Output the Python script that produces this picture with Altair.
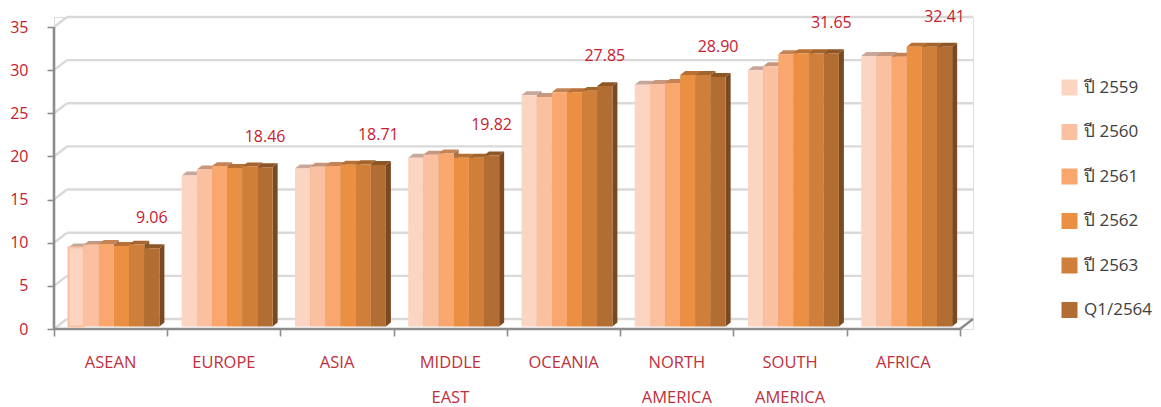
import altair as alt
import pandas as pd

regions = ["ASEAN", "EUROPE", "ASIA", "MIDDLE\nEAST", "OCEANIA", "NORTH\nAMERICA", "SOUTH\nAMERICA", "AFRICA"]
series = ["ปี 2559", "ปี 2560", "ปี 2561", "ปี 2562", "ปี 2563", "Q1/2564"]
colors = ["#FCD4C2", "#FBC09F", "#F9A76F", "#EB8F43", "#CF7F39", "#B26D32"]

y2559 = [9.14, 17.5, 18.3, 19.55, 26.8, 28.0, 29.7, 31.35]
y2560 = [9.45, 18.2, 18.5, 19.9, 26.6, 28.1, 30.15, 31.35]
y2561 = [9.56, 18.58, 18.6, 20.05, 27.15, 28.2, 31.55, 31.25]
y2562 = [9.33, 18.35, 18.75, 19.55, 27.15, 29.15, 31.65, 32.41]
y2563 = [9.48, 18.55, 18.8, 19.55, 27.3, 29.15, 31.65, 32.41]
q12564 = [9.06, 18.46, 18.71, 19.82, 27.85, 28.90, 31.65, 32.41]
table = [y2559, y2560, y2561, y2562, y2563, q12564]

y_ticks = [0, 5, 10, 15, 20, 25, 30, 35]
x_ticks = list(range(9))

# Pseudo-3D geometry, in data units of the two scales
X_MAX = 8.1148
Y_MAX = 36.16
WALL_DX, WALL_DY = 0.1148, 1.16   # shift from the front plane to the back wall
BAR_DX, BAR_DY = 0.044, 0.46      # depth of one bar
BAR_LEFT, BAR_W = 0.128, 0.1338   # first bar inside a category, width of a bar
BASE = 0.3                        # bars stand slightly behind the front edge of the floor

x_scale = alt.Scale(domain=[0, X_MAX], nice=False, zero=False)
y_scale = alt.Scale(domain=[0, Y_MAX], nice=False, zero=False)

# Every layer shares these two axis definitions
x_axis_spec = alt.Axis(
    values=x_ticks, title=None, domain=False, grid=False, labels=False,
    tickSize=7, tickWidth=1.6, tickColor="#8C8C8C",
)
y_axis_spec = alt.Axis(
    values=y_ticks, title=None, domain=False, grid=False, tickSize=7, tickWidth=1.6,
    tickColor="#8C8C8C", labelColor="#C8202F", labelFontSize=16, labelPadding=19,
    labelFont="Open Sans",
)


def shade(color, k):
    r, g, b = (int(color[i:i + 2], 16) for i in (1, 3, 5))
    return f"#{int(r * k):02X}{int(g * k):02X}{int(b * k):02X}"


def enc_x():
    return alt.X("x:Q", scale=x_scale, axis=x_axis_spec)


def enc_y():
    return alt.Y("y:Q", scale=y_scale, axis=y_axis_spec)


# Back wall: grid lines plus the short diagonals on the left wall
diag_rows = []
for t in y_ticks:
    diag_rows += [{"t": t, "x": 0, "y": t}, {"t": t, "x": WALL_DX, "y": t + WALL_DY}]
wall = (
    alt.Chart(pd.DataFrame([{"t": t, "x": WALL_DX, "x2": X_MAX, "y": t + WALL_DY} for t in y_ticks]))
    .mark_rule(color="#D9D9D9", strokeWidth=2.4)
    .encode(x=enc_x(), x2="x2:Q", y=enc_y())
)
wall_diag = (
    alt.Chart(pd.DataFrame(diag_rows))
    .mark_line(color="#D9D9D9", strokeWidth=2.4)
    .encode(x=enc_x(), y=enc_y(), detail="t:N")
)
floor_edge = (
    alt.Chart(pd.DataFrame([{"x": 8, "y": 0}, {"x": X_MAX, "y": WALL_DY}]))
    .mark_line(color="#8C8C8C", strokeWidth=2.4)
    .encode(x=enc_x(), y=enc_y())
)

# The two front edges of the frame
y_axis = (
    alt.Chart(pd.DataFrame({"x": [0], "y": [0], "y2": [35]}))
    .mark_rule(color="#8C8C8C", strokeWidth=2.6)
    .encode(x=enc_x(), y=enc_y(), y2="y2:Q")
)
x_axis = (
    alt.Chart(pd.DataFrame({"x": [0], "x2": [8], "y": [0]}))
    .mark_rule(color="#8C8C8C", strokeWidth=2.6)
    .encode(x=enc_x(), x2="x2:Q", y=enc_y())
)

layers = [wall, wall_diag, floor_edge, y_axis, x_axis]

# Bars are painted left to right so that each one hides the side of its left neighbour
for s, (name, color, values) in enumerate(zip(series, colors, table)):
    sides, tops, fronts = [], [], []
    for c, v in enumerate(values):
        x0 = c + BAR_LEFT + s * BAR_W
        x1 = x0 + BAR_W
        v0 = v + BASE
        sides += [
            {"c": c, "x": x1, "y": v0, "y2": BASE},
            {"c": c, "x": x1 + BAR_DX, "y": v0 + BAR_DY, "y2": BASE + BAR_DY},
        ]
        tops += [
            {"c": c, "x": x0, "y": v0, "y2": v0},
            {"c": c, "x": x0 + BAR_DX, "y": v0 + BAR_DY, "y2": v0},
            {"c": c, "x": x1, "y": v0 + BAR_DY, "y2": v0},
            {"c": c, "x": x1 + BAR_DX, "y": v0 + BAR_DY, "y2": v0 + BAR_DY},
        ]
        fronts.append({"series": name, "x": x0, "x2": x1, "y": v0, "y2": BASE})
    layers.append(
        alt.Chart(pd.DataFrame(sides))
        .mark_area(color=shade(color, 0.68), interpolate="linear")
        .encode(x=enc_x(), y=enc_y(), y2="y2:Q", detail="c:N")
    )
    layers.append(
        alt.Chart(pd.DataFrame(tops))
        .mark_area(color=shade(color, 0.79), interpolate="linear")
        .encode(x=enc_x(), y=enc_y(), y2="y2:Q", detail="c:N")
    )
    layers.append(
        alt.Chart(pd.DataFrame(fronts))
        .mark_rect()
        .encode(
            x=enc_x(),
            x2="x2:Q",
            y=enc_y(),
            y2="y2:Q",
            color=alt.Color(
                "series:N",
                scale=alt.Scale(domain=series, range=colors),
                legend=alt.Legend(
                    title=None, orient="none", legendX=1007, legendY=62, symbolType="square",
                    symbolSize=256, symbolStrokeWidth=0, labelFontSize=17, labelColor="#404040",
                    labelFont="Open Sans", labelOffset=6, rowPadding=26.5, labelLimit=110,
                ),
            ),
        )
    )

# The highlighted first point of the chart keeps an outline around its bar
highlight = (
    alt.Chart(pd.DataFrame([{"x": BAR_LEFT, "x2": BAR_LEFT + BAR_W, "y": y2559[0] + BASE, "y2": BASE}]))
    .mark_rect(fill=colors[0], stroke="#FBC09F", strokeWidth=2)
    .encode(x=enc_x(), x2="x2:Q", y=enc_y(), y2="y2:Q")
)
layers.append(highlight)

# Value labels float above the last bar of every group
value_labels = (
    alt.Chart(pd.DataFrame({
        "x": [c + BAR_LEFT + 5.5 * BAR_W for c in range(8)],
        "y": [v + BASE for v in q12564],
        "label": [f"{v:.2f}" for v in q12564],
    }))
    .mark_text(color="#C8202F", fontSize=16, font="Open Sans", dy=-30)
    .encode(x=enc_x(), y=enc_y(), text="label:N")
)
layers.append(value_labels)

region_labels = (
    alt.Chart(pd.DataFrame({"x": [c + 0.5 for c in range(8)], "y": [0] * 8, "label": regions}))
    .mark_text(color="#C0303C", fontSize=16.5, font="Open Sans", lineBreak="\n", lineHeight=35,
               baseline="top", dy=26)
    .encode(x=enc_x(), y=enc_y(), text="label:N")
)
layers.append(region_labels)

chart = (
    alt.layer(*layers)
    .properties(
        width=919,
        height=312,
        padding={"left": 54, "top": 17, "right": 188, "bottom": 78},
        autosize=alt.AutoSizeParams(type="none"),
    )
    .configure_view(stroke=None)
    .configure(background="white")
)

chart.save("out.html", embed_options={"renderer": "svg", "actions": False})
